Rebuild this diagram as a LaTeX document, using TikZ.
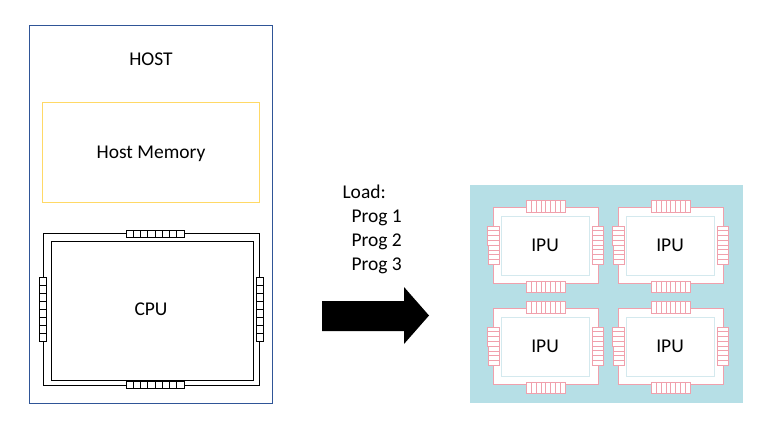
\documentclass[tikz,border=0pt]{standalone}
\usepackage{fontspec}
\setmainfont{Carlito}
\usepackage{tikz}
\definecolor{hostblue}{RGB}{47, 85, 151}
\definecolor{memyellow}{RGB}{255, 217, 102}
\definecolor{board}{RGB}{182, 223, 230}
\definecolor{pinkpad}{RGB}{240, 160, 172}
\definecolor{diecyan}{RGB}{212, 233, 238}
\newcommand{\hpads}[5]{%
  \draw[fill=white] (#1, #2) rectangle ++(#3, #4);
  \pgfmathtruncatemacro\padlast{#5-1}
  \foreach \k in {1,...,\padlast} \draw ({#1+\k*#3/#5}, #2) to ++(0, #4);
}
\newcommand{\vpads}[5]{%
  \draw[fill=white] (#1, #2) rectangle ++(#3, #4);
  \pgfmathtruncatemacro\padlast{#5-1}
  \foreach \k in {1,...,\padlast} \draw (#1, {#2+\k*#4/#5}) to ++(#3, 0);
}
\tikzset{
  box/.style={inner sep=0pt, outer sep=0pt, line width=1pt},
  txt/.style={font=\fontsize{19.5}{24}\selectfont}
}

\begin{document}
\begin{tikzpicture}[x=1pt, y=-1pt, txt]
  \useasboundingbox[fill=white] (0, 0) rectangle (762, 423);
  \node[box, draw=hostblue, minimum width=243, minimum height=378] (host) at (150.5, 214) {};
  \node (hostlabel) at (151, 59) {HOST};
  \node[box, draw=memyellow, minimum width=217, minimum height=100] (hostmem) at (150.5, 152) {};
  \node (memlabel) at (151, 153.5) {Host Memory};
  \node[box, draw, minimum width=216, minimum height=152] (cpu) at (151, 309) {};
  \node[box, draw, minimum width=202, minimum height=139] (cpudie) at (152, 310.5) {};
  \node (cpulabel) at (151, 309) {CPU};
  \begin{scope}[line width=0.8pt]
    \hpads{126}{230}{58}{7}{8}
    \hpads{126}{381}{58}{7}{8}
    \vpads{39}{277}{7}{64}{8}
    \vpads{256}{277}{7}{64}{8}
  \end{scope}
  \node[align=left, anchor=north west] (load) at (339, 181) {Load:\\\hspace*{9pt}Prog 1\\\hspace*{9pt}Prog 2\\\hspace*{9pt}Prog 3};
  \fill (322, 301) to (404, 301) to (404, 287) to (429, 315.5) to (404, 344) to (404, 331) to (322, 331) -- cycle;
  \fill[color=board] (470, 185) rectangle (743, 403);
  \foreach \cx/\cy/\n in {493/207/1, 618/207/2, 493/308/3, 618/308/4} {
    \begin{scope}[shift={(\cx, \cy)}, color=pinkpad, line width=0.9pt]
      \draw[fill=white] (0, 0) rectangle (105, 76.4);
      \hpads{33.4}{-6.3}{39}{11.3}{8}
      \hpads{33.4}{74}{39}{11.4}{8}
      \vpads{-6}{19}{12.4}{19.4}{4}
      \vpads{-4.6}{38.4}{11}{18.6}{4}
      \vpads{99.4}{19}{10.6}{38}{8}
    \end{scope}
    \node[box, draw=diecyan, minimum width=88, minimum height=58.6] (ipu\n) at (\cx+52, \cy+38.7) {};
    \node (ipulabel\n) at (\cx+52, \cy+38.5) {IPU};
  }
\end{tikzpicture}
\end{document}
